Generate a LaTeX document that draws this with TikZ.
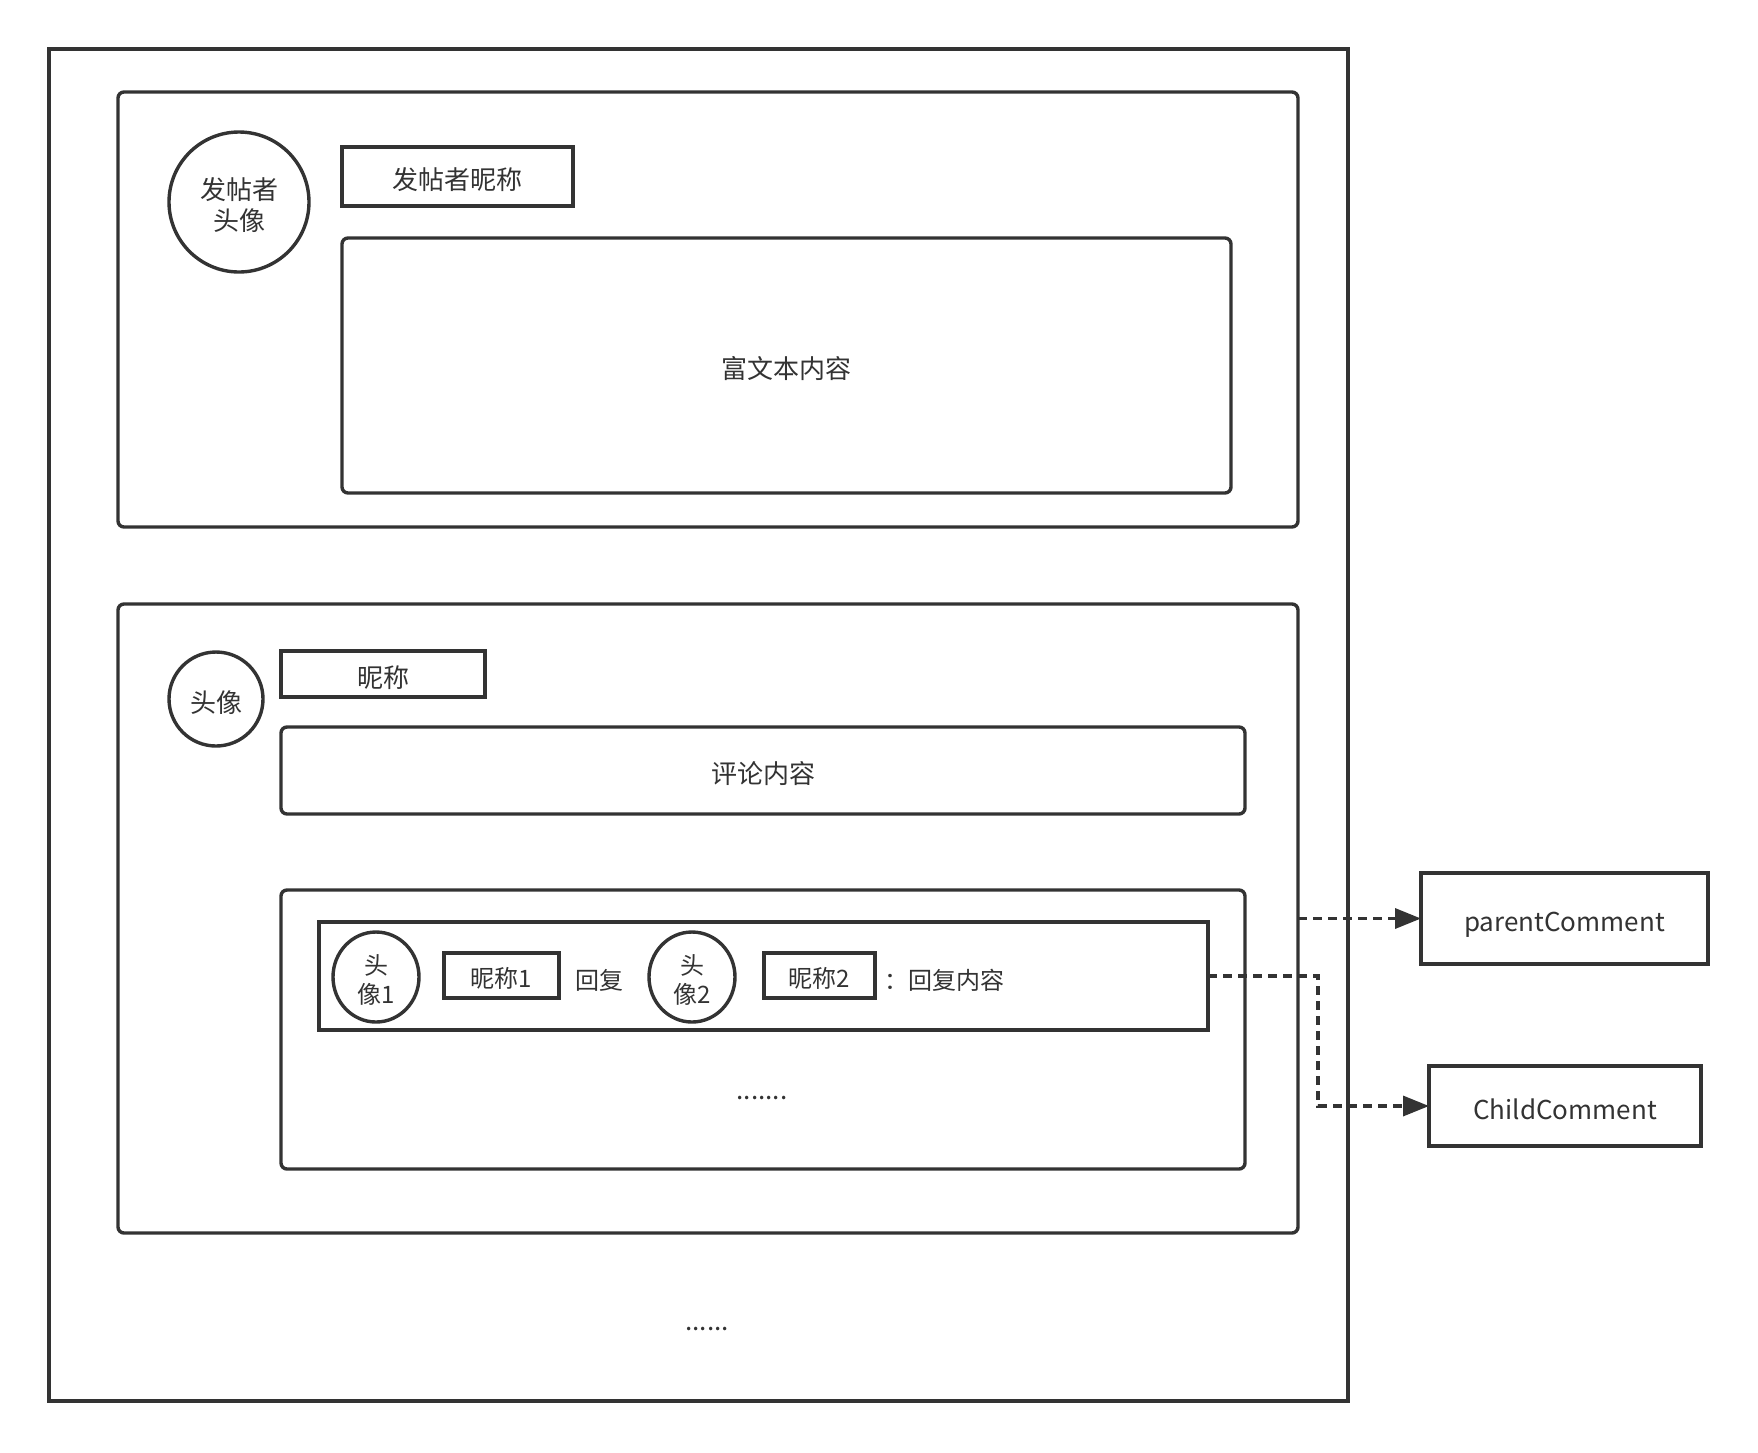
\documentclass[tikz,border=0pt]{standalone}
\usepackage{fontspec}
\setmainfont{Noto Sans CJK SC}
\usepackage{tikz}
\usetikzlibrary{arrows.meta, shapes.geometric, positioning}
\definecolor{grisoscuro}{HTML}{333333}

\begin{document}
\begin{tikzpicture}[
  x=1pt, y=-1pt,
  box/.style={
    rectangle, draw=grisoscuro, line width=3.4pt,
    inner sep=0pt, outer sep=0pt, text=grisoscuro,
    font=\fontsize{26}{31}\selectfont,
    text height=29pt, text depth=3pt
  },
  rbox/.style={box, rounded corners=6pt},
  avatar/.style={box, ellipse, align=center, text height=60pt},
  small/.style={font=\fontsize{24}{29}\selectfont, text height=27pt},
  smallav/.style={font=\fontsize{24}{29}\selectfont, text height=56pt},
  txt/.style={text=grisoscuro, inner sep=0pt, font=\fontsize{26}{31}\selectfont,
    text height=29pt, text depth=3pt},
  arr/.style={-{Triangle[length=26pt,width=20pt]}, grisoscuro,
    line width=3.4pt, dash pattern=on 9pt off 6pt}
]
  \useasboundingbox (0,0) rectangle (1758,1452);
  \node[box, minimum width=1299pt, minimum height=1352pt] (pagina) at (698.5,725) {};
  % post
  \node[rbox, minimum width=1180pt, minimum height=435pt] (post) at (708,309.5) {};
  \node[avatar, minimum width=140pt, minimum height=140pt] (avatarPost) at (239,202) {发帖者\\头像};
  \node[box, minimum width=231pt, minimum height=59pt] (nombrePost) at (457.5,176.5) {发帖者昵称};
  \node[rbox, minimum width=889pt, minimum height=255pt] (contenido) at (786.5,365.5) {富文本内容};
  % comment
  \node[rbox, minimum width=1180pt, minimum height=629pt] (comentario) at (708,918.5) {};
  \node[avatar, minimum width=94pt, minimum height=94pt, text height=29pt] (avatarCom) at (216,699) {头像};
  \node[box, minimum width=204pt, minimum height=46pt] (nombreCom) at (383,674) {昵称};
  \node[rbox, minimum width=964pt, minimum height=87pt] (textoCom) at (763,770.5) {评论内容};
  \node[rbox, minimum width=964pt, minimum height=279pt] (respuestas) at (763,1029.5) {};
  \node[box, minimum width=889pt, minimum height=108pt] (fila) at (763.5,976) {};
  \node[avatar, smallav, minimum width=86pt, minimum height=90pt] (av1) at (376,977) {头\\像1};
  \node[box, small, minimum width=115pt, minimum height=45pt] (nom1) at (501.5,975.5) {昵称1};
  \node[txt, small] (responde) at (599,977) {回复};
  \node[avatar, smallav, minimum width=86pt, minimum height=90pt] (av2) at (692,977) {头\\像2};
  \node[box, small, minimum width=111pt, minimum height=45pt] (nom2) at (819.5,975.5) {昵称2};
  \node[txt, small, anchor=west] (textoResp) at (884,977) {：回复内容};
  \node[txt] (puntos1) at (762,1086) {.......};
  \node[txt] (puntos2) at (707,1317) {......};
  % models
  \node[box, minimum width=287pt, minimum height=91pt] (padre) at (1564.5,918.5) {parentComment};
  \node[box, minimum width=272pt, minimum height=80pt] (hijo) at (1565,1106) {ChildComment};
  \draw[arr] (comentario.east) -- (padre.west);
  \draw[arr] (fila.east) -- ++(110,0) |- (hijo.west);
\end{tikzpicture}
\end{document}
